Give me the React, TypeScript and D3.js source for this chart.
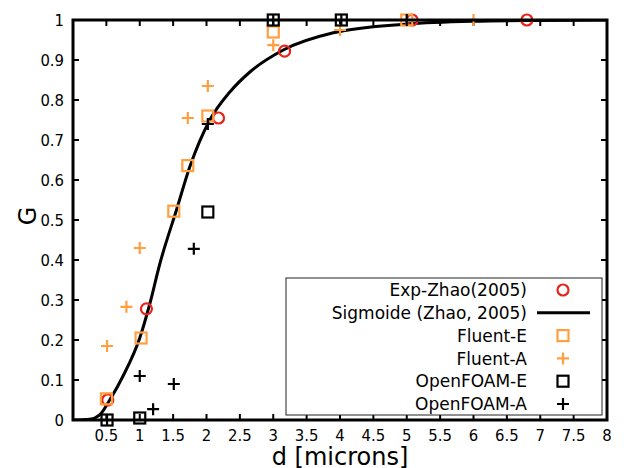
import React, { useEffect, useRef } from "react";
import * as d3 from "d3";

const width = 627;
const height = 468;
const margin = { top: 20, right: 20, bottom: 48, left: 73 };

// experimental points
const expD = [0.52, 1.1, 2.18, 3.17, 5.08, 6.8];
const expG = [0.05, 0.278, 0.755, 0.922, 1.0, 1.0];

// sigmoid curve
const sigD = [0, 0.25, 0.4, 0.55, 0.75, 1.0, 1.15, 1.3, 1.55, 1.75, 2.05, 2.35, 2.65, 3.15, 3.9, 5.0, 6.0, 7.0, 8.0];
const sigG = [0, 0.002, 0.013, 0.05, 0.11, 0.205, 0.29, 0.39, 0.525, 0.633, 0.75, 0.82, 0.87, 0.925, 0.968, 0.99, 0.997, 0.999, 1.0];

const fluentED = [0.5, 1.02, 1.51, 1.72, 2.02, 3.0, 5.0];
const fluentEG = [0.053, 0.205, 0.522, 0.636, 0.76, 0.97, 1.0];

const fluentAD = [0.51, 0.8, 1.0, 1.72, 2.02, 3.0, 4.0, 5.0, 6.0];
const fluentAG = [0.185, 0.283, 0.43, 0.755, 0.835, 0.937, 0.975, 1.0, 1.0];

const foamED = [0.51, 1.0, 2.02, 3.0, 4.02];
const foamEG = [0.0, 0.005, 0.52, 1.0, 1.0];

const foamAD = [0.51, 1.0, 1.2, 1.51, 1.81, 2.02, 3.0, 4.02, 5.0];
const foamAG = [0.0, 0.11, 0.027, 0.09, 0.428, 0.74, 1.0, 1.0, 1.0];

const xTicks = d3.range(0.5, 8.01, 0.5);
const yTicks = d3.range(0, 1.001, 0.1);

const legendLabels = ["Exp-Zhao(2005)", "Sigmoide (Zhao, 2005)", "Fluent-E", "Fluent-A", "OpenFOAM-E", "OpenFOAM-A"];

const orange = "#ff9f40";
const red = "#e8231c";
const tickFont = "'DejaVu Sans Condensed', 'DejaVu Sans', sans-serif";
const font = "'DejaVu Sans', sans-serif";

const zip = (xs: number[], ys: number[]) => xs.map((v, i) => [v, ys[i]] as [number, number]);

export default function App() {
  const ref = useRef<SVGSVGElement>(null);

  useEffect(() => {
    const svg = d3.select(ref.current);
    svg.selectAll("*").remove();

    const x = d3.scaleLinear().domain([0, 8]).range([margin.left, width - margin.right]);
    const y = d3.scaleLinear().domain([0, 1]).range([height - margin.bottom, margin.top]);
    const x0 = x(0), x1 = x(8), y0 = y(0), y1 = y(1);

    // ticks (inward on all four sides)
    const tk = svg.append("g").attr("stroke", "#000").attr("stroke-width", 2);
    xTicks.forEach(t => {
      tk.append("line").attr("x1", x(t)).attr("x2", x(t)).attr("y1", y0).attr("y2", y0 - 6);
      tk.append("line").attr("x1", x(t)).attr("x2", x(t)).attr("y1", y1).attr("y2", y1 + 6);
    });
    yTicks.forEach(t => {
      tk.append("line").attr("x1", x0).attr("x2", x0 + 6).attr("y1", y(t)).attr("y2", y(t));
      tk.append("line").attr("x1", x1).attr("x2", x1 - 6).attr("y1", y(t)).attr("y2", y(t));
    });

    // tick labels
    svg.append("g")
      .selectAll("text")
      .data(xTicks)
      .join("text")
      .attr("x", d => x(d))
      .attr("y", y0 + 21)
      .attr("text-anchor", "middle")
      .style("font", `16.5px ${tickFont}`)
      .text(d => d3.format("")(+d.toFixed(1)));

    svg.append("g")
      .selectAll("text")
      .data(yTicks)
      .join("text")
      .attr("x", x0 - 9)
      .attr("y", d => y(d))
      .attr("dy", "0.36em")
      .attr("text-anchor", "end")
      .style("font", `16.5px ${tickFont}`)
      .text(d => d3.format("")(+d.toFixed(1)));

    // axis titles
    svg.append("text")
      .attr("x", (x0 + x1) / 2)
      .attr("y", height - 3)
      .attr("text-anchor", "middle")
      .style("font", `24px ${font}`)
      .text("d [microns]");

    svg.append("text")
      .attr("transform", `translate(36,${y(0.5) - 4}) rotate(-90)`)
      .attr("text-anchor", "middle")
      .style("font", `24px ${font}`)
      .text("G");

    // sigmoid curve
    const line = d3.line<[number, number]>()
      .x(d => x(d[0]))
      .y(d => y(d[1]))
      .curve(d3.curveMonotoneX);

    const clip = svg.append("defs").append("clipPath").attr("id", "plotclip");
    clip.append("rect").attr("x", x0).attr("y", y1 - 1).attr("width", x1 - x0).attr("height", y0 - y1 + 2);

    svg.append("path")
      .attr("d", line(zip(sigD, sigG)))
      .attr("fill", "none")
      .attr("stroke", "#000")
      .attr("stroke-width", 3)
      .attr("clip-path", "url(#plotclip)");

    const square = (g: any, cx: number, cy: number, color: string) =>
      g.append("rect").attr("x", cx - 5.5).attr("y", cy - 5.5).attr("width", 11).attr("height", 11)
        .attr("fill", "none").attr("stroke", color).attr("stroke-width", 2.2);
    const plus = (g: any, cx: number, cy: number, color: string) =>
      g.append("path").attr("d", `M${cx - 6},${cy}H${cx + 6}M${cx},${cy - 6}V${cy + 6}`)
        .attr("stroke", color).attr("stroke-width", 2.2).attr("fill", "none");
    const circle = (g: any, cx: number, cy: number, color: string) =>
      g.append("circle").attr("cx", cx).attr("cy", cy).attr("r", 5.5)
        .attr("fill", "none").attr("stroke", color).attr("stroke-width", 2.2);

    const pts = svg.append("g");
    zip(expD, expG).forEach(d => circle(pts, x(d[0]), y(d[1]), red));
    zip(fluentED, fluentEG).forEach(d => square(pts, x(d[0]), y(d[1]), orange));
    zip(fluentAD, fluentAG).forEach(d => plus(pts, x(d[0]), y(d[1]), orange));
    zip(foamED, foamEG).forEach(d => square(pts, x(d[0]), y(d[1]), "#000"));
    zip(foamAD, foamAG).forEach(d => plus(pts, x(d[0]), y(d[1]), "#000"));

    // frame
    svg.append("rect")
      .attr("x", x0).attr("y", y1).attr("width", x1 - x0).attr("height", y0 - y1)
      .attr("fill", "none").attr("stroke", "#000").attr("stroke-width", 3);

    // legend
    const lg = svg.append("g");
    lg.append("rect")
      .attr("x", 286).attr("y", 278).attr("width", 316).attr("height", 137)
      .attr("fill", "#fff").attr("stroke", "#222").attr("stroke-width", 1);
    legendLabels.forEach((label, i) => {
      const ly = 290 + i * 22.8;
      lg.append("text")
        .attr("x", 527).attr("y", ly).attr("dy", "0.36em")
        .attr("text-anchor", "end")
        .style("font", `17px ${font}`)
        .text(label);
      const sx = 563;
      if (i === 0) circle(lg, sx, ly, red);
      if (i === 1) lg.append("line").attr("x1", 537).attr("x2", 590).attr("y1", ly).attr("y2", ly)
        .attr("stroke", "#000").attr("stroke-width", 3);
      if (i === 2) square(lg, sx, ly, orange);
      if (i === 3) plus(lg, sx, ly, orange);
      if (i === 4) square(lg, sx, ly, "#000");
      if (i === 5) plus(lg, sx, ly, "#000");
    });
  }, []);

  return (
    <svg
      ref={ref}
      width={width}
      height={height}
      style={{ position: "absolute", left: 0, top: 0, background: "#fff" }}
    />
  );
}
